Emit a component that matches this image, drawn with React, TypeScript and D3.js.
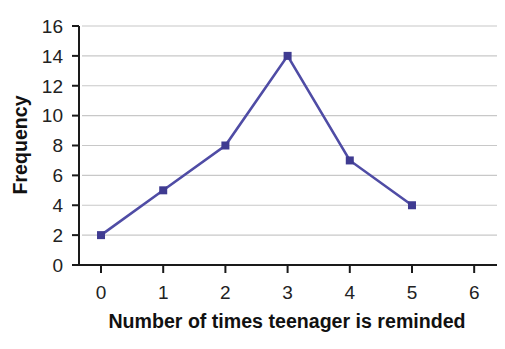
import React from "react";
import * as d3 from "d3";

const categories = [0, 1, 2, 3, 4, 5];
const frequencies = [2, 5, 8, 14, 7, 4];
const xTicks = [0, 1, 2, 3, 4, 5, 6];
const yTicks = [0, 2, 4, 6, 8, 10, 12, 14, 16];

export default function App() {
  const W = 505, H = 349;
  const left = 79, right = 497, top = 26, bottom = 265;
  const x = d3.scaleLinear().domain([-0.354, 6.367]).range([left, right]);
  const y = d3.scaleLinear().domain([0, 16]).range([bottom, top]);
  const pts = categories.map((c, i) => [c, frequencies[i]] as [number, number]);
  const line = d3.line<[number, number]>().x(d => x(d[0])).y(d => y(d[1]));
  const font = "Liberation Sans, Arial, sans-serif";
  return (
    <svg width={W} height={H} style={{ position: "absolute", left: 0, top: 0, background: "#fff" }}>
      {yTicks.filter(t => t > 0).map(t => (
        <line key={"g" + t} x1={left + 3} x2={right} y1={y(t)} y2={y(t)} stroke="#c8c8c8" strokeWidth={1.2} />
      ))}
      <line x1={left} x2={left} y1={top} y2={bottom} stroke="#1a1a1a" strokeWidth={2} />
      <line x1={left - 7} x2={right} y1={bottom} y2={bottom} stroke="#1a1a1a" strokeWidth={2} />
      {yTicks.map(t => (
        <g key={"y" + t}>
          <line x1={left - 7} x2={left} y1={y(t)} y2={y(t)} stroke="#1a1a1a" strokeWidth={2} />
          <text x={63} y={y(t)} dy="0.36em" textAnchor="end" fontFamily={font} fontSize={19} fill="#222">{t}</text>
        </g>
      ))}
      {xTicks.map(t => (
        <g key={"x" + t}>
          <line x1={x(t)} x2={x(t)} y1={bottom} y2={bottom + 8} stroke="#1a1a1a" strokeWidth={2} />
          <text x={x(t)} y={299} textAnchor="middle" fontFamily={font} fontSize={19} fill="#222">{t}</text>
        </g>
      ))}
      <path d={line(pts) || ""} fill="none" stroke="#4f4ca5" strokeWidth={2.6} />
      {pts.map((p, i) => (
        <rect key={"m" + i} x={x(p[0]) - 4} y={y(p[1]) - 4} width={8} height={8} fill="#3f3b91" />
      ))}
      <text x={287} y={328} textAnchor="middle" fontFamily={font} fontWeight="bold" fontSize={19.6} fill="#111">Number of times teenager is reminded</text>
      <text transform={`translate(27,145) rotate(-90)`} textAnchor="middle" fontFamily={font} fontWeight="bold" fontSize={19.6} fill="#111">Frequency</text>
    </svg>
  );
}
